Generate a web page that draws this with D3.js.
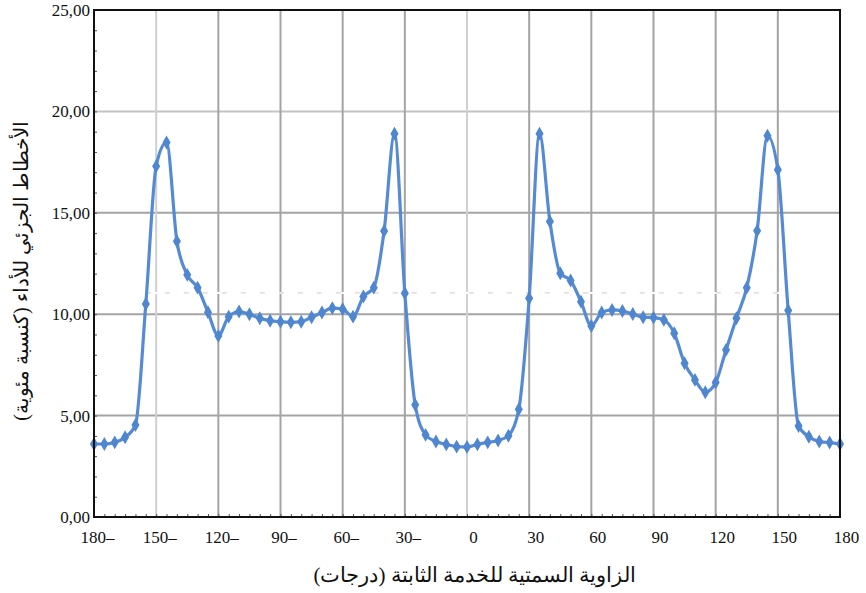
<!DOCTYPE html>
<html>
<head>
  <meta charset="utf-8">
  <title>Azimuth chart</title>
  <script src="https://d3js.org/d3.v7.min.js"></script>
  <style>
    body { margin:0; background:#fff; }
    .tick text { font-family:"Liberation Serif","DejaVu Serif",serif; }
  </style>
</head>
<body>
<svg id="chart" width="866" height="593"></svg>
<script>
// azimuth angle (degrees) and partial degradation (%)
var angles = [-180,-175,-170,-165,-160,-155,-150,-145,-140,-135,-130,-125,-120,-115,-110,-105,-100,-95,-90,
  -85,-80,-75,-70,-65,-60,-55,-50,-45,-40,-35,-30,-25,-20,-15,-10,-5,0,
  5,10,15,20,25,30,35,40,45,50,55,60,65,70,75,80,85,90,
  95,100,105,110,115,120,125,130,135,140,145,150,155,160,165,170,175,180];
var values = [3.60,3.60,3.68,3.93,4.54,10.50,17.30,18.47,13.60,11.94,11.31,10.10,8.93,9.88,10.13,10.00,9.80,9.68,9.63,
  9.60,9.63,9.85,10.08,10.30,10.25,9.88,10.87,11.31,14.10,18.90,11.03,5.53,4.05,3.72,3.58,3.47,3.45,
  3.58,3.68,3.77,4.01,5.31,10.79,18.90,14.57,12.02,11.66,10.62,9.42,10.08,10.21,10.16,10.01,9.85,9.83,
  9.72,9.06,7.58,6.76,6.15,6.63,8.24,9.80,11.31,14.11,18.80,17.12,10.18,4.49,3.96,3.72,3.67,3.60];
var xTicks = [-180,-150,-120,-90,-60,-30,0,30,60,90,120,150,180];
var yTicks = [0,5,10,15,20,25];
var refLevel = 11.05;
var refRange = [-155, 156];
var xTitle = "الزاوية السمتية للخدمة الثابتة (درجات)";
var yTitle = "الأخطاط الجزئي للأداء (كنسبة مئوية)";

var margin = {left:94, top:10, right:26, bottom:76};
var width = 866 - margin.left - margin.right;
var height = 593 - margin.top - margin.bottom;

var svg = d3.select("#chart");
var g = svg.append("g").attr("transform", "translate(" + margin.left + "," + margin.top + ")");

var x = d3.scaleLinear().domain([-180, 180]).range([0, width]);
var y = d3.scaleLinear().domain([0, 25]).range([height, 0]);

// grid
g.append("g").selectAll("line").data(yTicks.slice(1, -1)).enter().append("line")
  .attr("x1", 0).attr("x2", width)
  .attr("y1", d => y(d)).attr("y2", d => y(d))
  .style("stroke", d => d == 20 ? "#c4c4c4" : "#a4a4a4").style("stroke-width", 2);
g.append("g").selectAll("line").data(xTicks.slice(1, -1)).enter().append("line")
  .attr("x1", d => x(d)).attr("x2", d => x(d))
  .attr("y1", 0).attr("y2", height)
  .style("stroke", d => (d == -150 || d == 0) ? "#d0d0d0" : "#a4a4a4").style("stroke-width", 2);

// faint dashed level line
g.append("line")
  .attr("x1", x(refRange[0])).attr("x2", x(refRange[1]))
  .attr("y1", y(refLevel)).attr("y2", y(refLevel))
  .style("stroke", "#fff").style("stroke-width", 2);
g.append("line")
  .attr("x1", x(refRange[0])).attr("x2", x(refRange[1]))
  .attr("y1", y(refLevel)).attr("y2", y(refLevel))
  .style("stroke", "#e2cfd3").style("stroke-width", 1.2).style("stroke-dasharray", "5,14");

// minor ticks (inside)
g.append("g").call(d3.axisTop(x).ticks(60).tickSize(3).tickFormat(""))
  .attr("transform", "translate(0," + height + ")")
  .call(a => a.select(".domain").remove())
  .selectAll("line").style("stroke", "#555");
g.append("g").call(d3.axisRight(y).ticks(25).tickSize(3).tickFormat(""))
  .call(a => a.select(".domain").remove())
  .selectAll("line").style("stroke", "#555");

// series
var pts = angles.map((a, i) => [a, values[i]]);
var line = d3.line().x(d => x(d[0])).y(d => y(d[1])).curve(d3.curveMonotoneX);
g.append("path").datum(pts)
  .attr("d", line)
  .style("fill", "none").style("stroke", "#558bd4").style("stroke-width", 3.2)
  .style("stroke-linejoin", "round");
g.append("g").selectAll("path").data(pts).enter().append("path")
  .attr("d", d3.symbol().type(d3.symbolDiamond).size(56))
  .attr("transform", d => "translate(" + x(d[0]) + "," + y(d[1]) + ")")
  .style("fill", "#4f86d0");

// frame
g.append("rect").attr("width", width).attr("height", height)
  .style("fill", "none").style("stroke", "#111").style("stroke-width", 2);

// axes labels
var xAxis = g.append("g").attr("transform", "translate(0," + height + ")")
  .call(d3.axisBottom(x).tickValues(xTicks).tickSize(0).tickPadding(14)
    .tickFormat(d => d < 0 ? Math.abs(d) + "–" : String(d)));
xAxis.select(".domain").remove();
xAxis.selectAll("text").style("font-size", "17px").style("fill", "#111")
  .attr("dx", d => d < 0 ? 3 : 6);

var yAxis = g.append("g")
  .call(d3.axisLeft(y).tickValues(yTicks).tickSize(0).tickPadding(4)
    .tickFormat(d => d3.format(".2f")(d).replace(".", ",")));
yAxis.select(".domain").remove();
yAxis.selectAll("text").style("font-size", "17px").style("fill", "#111");

svg.append("text")
  .attr("x", 475).attr("y", 582)
  .attr("text-anchor", "middle")
  .style("font-family", "'Liberation Serif','DejaVu Serif',serif")
  .style("font-size", "21px").style("fill", "#111")
  .text(xTitle);

svg.append("text")
  .attr("transform", "translate(28,271) rotate(-90)")
  .attr("text-anchor", "middle")
  .style("font-family", "'Liberation Serif','DejaVu Serif',serif")
  .style("font-size", "20px").style("fill", "#111")
  .text(yTitle);
</script>
</body>
</html>
